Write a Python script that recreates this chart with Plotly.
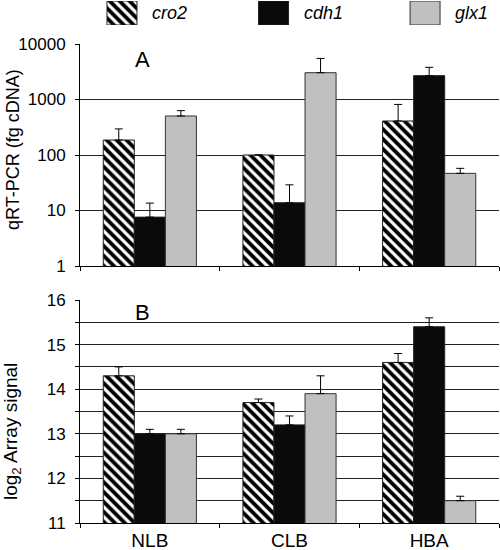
import plotly.graph_objects as go

categories = ["NLB", "CLB", "HBA"]
series = ["cro2", "cdh1", "glx1"]

# Panel A: qRT-PCR (fg cDNA), log scale
qpcr_cro2 = [186, 100, 410]
qpcr_cro2_err = [109, 0, 405]
qpcr_cdh1 = [7.6, 13.8, 2690]
qpcr_cdh1_err = [6.0, 15.2, 1110]
qpcr_glx1 = [505, 3040, 46.7]
qpcr_glx1_err = [125, 2460, 10.8]

# Panel B: log2 array signal
array_cro2 = [14.3, 13.7, 14.6]
array_cro2_err = [0.2, 0.08, 0.2]
array_cdh1 = [13.0, 13.2, 15.4]
array_cdh1_err = [0.1, 0.2, 0.2]
array_glx1 = [13.0, 13.9, 11.5]
array_glx1_err = [0.1, 0.4, 0.1]

qpcr_ticks = [1, 10, 100, 1000, 10000]
qpcr_ticktext = ["1", "10", "100", "1000", "10000"]
array_ticks = [11, 12, 13, 14, 15, 16]

FONT = "Liberation Sans, Arial, sans-serif"

styles = {
    "cro2": dict(color="white", line=dict(color="#222", width=1),
                 pattern=dict(shape="\\", fgcolor="black", bgcolor="white", fgopacity=1,
                              size=7, solidity=0.55)),
    "cdh1": dict(color="#0a0a0a", line=dict(color="#222", width=1)),
    "glx1": dict(color="#c0c0c0", line=dict(color="#333", width=1)),
}

top_vals = {"cro2": (qpcr_cro2, qpcr_cro2_err), "cdh1": (qpcr_cdh1, qpcr_cdh1_err),
            "glx1": (qpcr_glx1, qpcr_glx1_err)}
bot_vals = {"cro2": (array_cro2, array_cro2_err), "cdh1": (array_cdh1, array_cdh1_err),
            "glx1": (array_glx1, array_glx1_err)}

fig = go.Figure()

for s in series:
    v, e = top_vals[s]
    fig.add_trace(go.Bar(
        x=categories, y=v, name=s, marker=styles[s], xaxis="x", yaxis="y",
        showlegend=False,
        error_y=dict(type="data", symmetric=False, array=e, arrayminus=[0] * len(e),
                     color="black", thickness=1, width=4),
    ))
for s in series:
    v, e = bot_vals[s]
    fig.add_trace(go.Bar(
        x=categories, y=v, name=s, marker=styles[s], xaxis="x2", yaxis="y2",
        showlegend=False,
        error_y=dict(type="data", symmetric=False, array=e, arrayminus=[0] * len(e),
                     color="black", thickness=1, width=4),
    ))

# Legend patches drawn as bars on a small dedicated axis
for i, s in enumerate(series):
    fig.add_trace(go.Bar(
        x=[i], y=[1], name=s, marker=styles[s], xaxis="x3", yaxis="y3",
        width=0.198, showlegend=False, hoverinfo="skip",
    ))

H = 523.0  # plotting height in px (margin t=0, b=27)
def py(px):
    return 1 - px / H

common_y = dict(showline=True, linecolor="black", linewidth=1, ticks="outside",
                ticklen=4, tickcolor="black", showgrid=True, gridcolor="#222",
                gridwidth=1, zeroline=False, automargin=False,
                tickfont=dict(size=17, family=FONT, color="black"),
                ticklabelstandoff=6)
common_x = dict(type="category", showline=True, linecolor="black", linewidth=1,
                ticks="outside", tickson="boundaries", ticklen=4, tickcolor="black",
                showgrid=False, zeroline=False, automargin=False)

fig.update_layout(
    width=500, height=550,
    margin=dict(l=80, r=1, t=0, b=27, autoexpand=False),
    paper_bgcolor="white", plot_bgcolor="white",
    barmode="group", bargap=0.333, bargroupgap=0,
    font=dict(family=FONT, color="black"),
    showlegend=False,
    xaxis=dict(**common_x, anchor="y", domain=[0, 1], showticklabels=False),
    yaxis=dict(**common_y, anchor="x", domain=[py(266), py(44)], type="log",
               range=[0, 4], tickvals=qpcr_ticks, ticktext=qpcr_ticktext),
    xaxis2=dict(**common_x, anchor="y2", domain=[0, 1], showticklabels=True,
                tickfont=dict(size=19, family=FONT, color="black")),
    yaxis2=dict(**common_y, anchor="x2", domain=[0, py(300)], range=[11, 16],
                tickvals=array_ticks,
                minor=dict(dtick=0.5, showgrid=True, gridcolor="#222", gridwidth=1,
                           ticks="outside", ticklen=4, tickcolor="black")),
    xaxis3=dict(anchor="y3", domain=[0, 1], range=[-0.277, 2.488], visible=False,
                automargin=False),
    yaxis3=dict(anchor="x3", domain=[py(25), py(1)], range=[0, 1], visible=False,
                automargin=False),
)

annotations = [
    dict(text="A", x=(142 - 80) / 419, y=py(60), xref="paper", yref="paper",
         xanchor="center", yanchor="middle", showarrow=False,
         font=dict(size=22, family=FONT, color="black")),
    dict(text="B", x=(142 - 80) / 419, y=py(312), xref="paper", yref="paper",
         xanchor="center", yanchor="middle", showarrow=False,
         font=dict(size=22, family=FONT, color="black")),
    dict(text="qRT-PCR (fg cDNA)", x=(13 - 80) / 419, y=py(150), xref="paper",
         yref="paper", xanchor="center", yanchor="middle", textangle=-90, showarrow=False,
         font=dict(size=18, family=FONT, color="black")),
    dict(text="log<sub>2</sub> Array signal", x=(12 - 80) / 419, y=py(432),
         xref="paper", yref="paper", xanchor="center", yanchor="middle",
         textangle=-90, showarrow=False,
         font=dict(size=19, family=FONT, color="black")),
]
for i, s in enumerate(series):
    annotations.append(dict(
        text="<i>%s</i>" % s, x=i + 0.099, y=0.5, xref="x3", yref="y3",
        xanchor="left", yanchor="middle", xshift=13, showarrow=False,
        font=dict(size=18, family=FONT, color="black"),
    ))
fig.update_layout(annotations=annotations)

fig.write_html("out.html", config={"displayModeBar": False},
               post_script="document.body.style.margin='0';")
